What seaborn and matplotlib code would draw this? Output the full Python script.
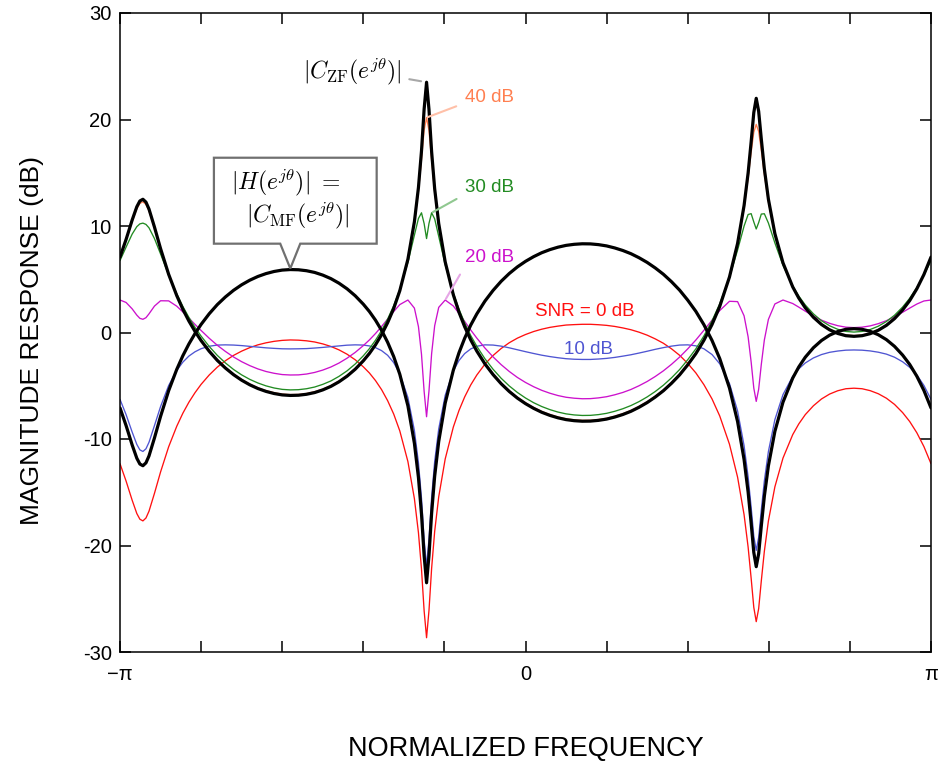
import numpy as np
import matplotlib
matplotlib.use("Agg")
import matplotlib.pyplot as plt
from matplotlib.patches import Polygon
import seaborn as sns

# ---------------- data ----------------
theta_over_pi = [
    -1.000, -0.985, -0.970, -0.9585, -0.951, -0.9435, -0.936, -0.9285, -0.915, -0.900,
    -0.880, -0.860, -0.845, -0.830, -0.815, -0.800, -0.780, -0.760, -0.740, -0.720,
    -0.700, -0.680, -0.660, -0.640, -0.620, -0.600, -0.580, -0.560, -0.540, -0.520,
    -0.500, -0.480, -0.460, -0.440, -0.420, -0.400, -0.385, -0.370, -0.355, -0.340,
    -0.325, -0.310, -0.290, -0.274, -0.264, -0.2565, -0.250, -0.244, -0.238, -0.2315,
    -0.224, -0.214, -0.198, -0.178, -0.164, -0.150, -0.135, -0.120, -0.100, -0.080,
    -0.060, -0.040, -0.020, 0.000, 0.020, 0.040, 0.060, 0.080, 0.100, 0.120,
    0.140, 0.160, 0.180, 0.200, 0.220, 0.240, 0.260, 0.280, 0.300, 0.320,
    0.340, 0.360, 0.380, 0.400, 0.420, 0.440, 0.460, 0.479, 0.503, 0.523,
    0.539, 0.549, 0.5565, 0.563, 0.569, 0.575, 0.5815, 0.589, 0.599, 0.615,
    0.635, 0.659, 0.674, 0.690, 0.710, 0.730, 0.750, 0.770, 0.790, 0.810,
    0.830, 0.850, 0.870, 0.890, 0.910, 0.930, 0.9475, 0.965, 0.9825, 1.000]

H_db = [
    -7.08, -8.74, -10.56, -11.81, -12.35, -12.51, -12.24, -11.59, -9.90, -7.88,
    -5.46, -3.46, -2.18, -1.07, -0.10, 0.76, 1.76, 2.62, 3.34, 3.96,
    4.48, 4.91, 5.26, 5.53, 5.73, 5.86, 5.91, 5.89, 5.80, 5.64,
    5.39, 5.06, 4.63, 4.10, 3.45, 2.66, 1.97, 1.16, 0.21, -0.92,
    -2.26, -3.92, -6.88, -10.40, -13.62, -17.04, -20.97, -23.50, -20.93, -16.97,
    -13.50, -10.23, -6.62, -3.54, -1.90, -0.54, 0.70, 1.75, 2.95, 3.95,
    4.81, 5.54, 6.16, 6.68, 7.12, 7.49, 7.78, 8.01, 8.18, 8.28,
    8.33, 8.32, 8.25, 8.13, 7.94, 7.70, 7.40, 7.02, 6.58, 6.06,
    5.47, 4.77, 3.98, 3.04, 1.99, 0.73, -0.75, -2.45, -5.21, -8.36,
    -11.92, -14.98, -17.92, -20.65, -21.99, -20.77, -18.17, -15.38, -12.52, -9.28,
    -6.54, -4.28, -3.23, -2.32, -1.43, -0.75, -0.25, 0.09, 0.30, 0.36,
    0.30, 0.11, -0.21, -0.67, -1.30, -2.12, -3.00, -4.10, -5.44, -7.08]

ZF_db = [
    7.08, 8.74, 10.56, 11.81, 12.35, 12.51, 12.24, 11.59, 9.90, 7.88,
    5.46, 3.46, 2.18, 1.07, 0.10, -0.76, -1.76, -2.62, -3.34, -3.96,
    -4.48, -4.91, -5.26, -5.53, -5.73, -5.86, -5.91, -5.89, -5.80, -5.64,
    -5.39, -5.06, -4.63, -4.10, -3.45, -2.66, -1.97, -1.16, -0.21, 0.92,
    2.26, 3.92, 6.88, 10.40, 13.62, 17.04, 20.97, 23.50, 20.93, 16.97,
    13.50, 10.23, 6.62, 3.54, 1.90, 0.54, -0.70, -1.75, -2.95, -3.95,
    -4.81, -5.54, -6.16, -6.68, -7.12, -7.49, -7.78, -8.01, -8.18, -8.28,
    -8.33, -8.32, -8.25, -8.13, -7.94, -7.70, -7.40, -7.02, -6.58, -6.06,
    -5.47, -4.77, -3.98, -3.04, -1.99, -0.73, 0.75, 2.45, 5.21, 8.36,
    11.92, 14.98, 17.92, 20.65, 21.99, 20.77, 18.17, 15.38, 12.52, 9.28,
    6.54, 4.28, 3.23, 2.32, 1.43, 0.75, 0.25, -0.09, -0.30, -0.36,
    -0.30, -0.11, 0.21, 0.67, 1.30, 2.12, 3.00, 4.10, 5.44, 7.08]

snr0_db = [
    -12.32, -13.95, -15.75, -17.00, -17.53, -17.69, -17.42, -16.78, -15.10, -13.10,
    -10.73, -8.80, -7.58, -6.54, -5.65, -4.87, -3.99, -3.25, -2.65, -2.15,
    -1.75, -1.42, -1.16, -0.97, -0.83, -0.74, -0.70, -0.72, -0.78, -0.89,
    -1.07, -1.31, -1.63, -2.04, -2.56, -3.22, -3.80, -4.51, -5.36, -6.40,
    -7.66, -9.24, -12.12, -15.60, -18.80, -22.21, -26.13, -28.66, -26.09, -22.14,
    -18.68, -15.43, -11.87, -8.88, -7.32, -6.05, -4.92, -3.99, -2.97, -2.16,
    -1.50, -0.96, -0.53, -0.19, 0.09, 0.31, 0.48, 0.60, 0.70, 0.74,
    0.77, 0.77, 0.73, 0.67, 0.57, 0.43, 0.26, 0.03, -0.25, -0.60,
    -1.01, -1.53, -2.14, -2.90, -3.79, -4.90, -6.24, -7.84, -10.49, -13.58,
    -17.10, -20.15, -23.09, -25.81, -27.15, -25.93, -23.33, -20.55, -17.70, -14.49,
    -11.79, -9.59, -8.58, -7.71, -6.88, -6.24, -5.78, -5.47, -5.28, -5.23,
    -5.28, -5.46, -5.75, -6.17, -6.75, -7.52, -8.36, -9.41, -10.71, -12.32]

snr10_db = [
    -6.28, -7.71, -9.35, -10.51, -11.02, -11.17, -10.92, -10.31, -8.74, -6.96,
    -4.98, -3.56, -2.78, -2.21, -1.81, -1.52, -1.29, -1.18, -1.16, -1.18,
    -1.23, -1.30, -1.37, -1.44, -1.49, -1.53, -1.54, -1.53, -1.51, -1.46,
    -1.40, -1.33, -1.26, -1.19, -1.16, -1.18, -1.26, -1.42, -1.70, -2.14,
    -2.83, -3.87, -6.11, -9.20, -12.23, -15.56, -19.44, -21.96, -19.40, -15.49,
    -12.12, -9.05, -5.90, -3.61, -2.63, -1.98, -1.54, -1.29, -1.16, -1.18,
    -1.28, -1.44, -1.62, -1.80, -1.97, -2.13, -2.26, -2.37, -2.46, -2.51,
    -2.53, -2.53, -2.49, -2.43, -2.34, -2.22, -2.09, -1.93, -1.76, -1.58,
    -1.42, -1.28, -1.18, -1.16, -1.25, -1.53, -2.07, -2.94, -4.79, -7.37,
    -10.62, -13.55, -16.42, -19.12, -20.46, -19.24, -16.67, -13.94, -11.18, -8.18,
    -5.83, -4.12, -3.41, -2.86, -2.39, -2.07, -1.86, -1.74, -1.66, -1.64,
    -1.66, -1.73, -1.85, -2.03, -2.32, -2.75, -3.27, -3.99, -4.97, -6.28]

snr20_db = [
    3.05, 2.82, 2.22, 1.63, 1.33, 1.24, 1.39, 1.75, 2.48, 2.98,
    2.97, 2.47, 1.93, 1.35, 0.76, 0.19, -0.54, -1.20, -1.78, -2.30,
    -2.74, -3.11, -3.42, -3.66, -3.83, -3.95, -3.99, -3.98, -3.90, -3.75,
    -3.53, -3.24, -2.87, -2.41, -1.87, -1.23, -0.70, -0.10, 0.56, 1.26,
    1.97, 2.62, 3.05, 2.29, 0.55, -2.04, -5.52, -7.91, -5.48, -1.98,
    0.63, 2.36, 3.05, 2.49, 1.79, 1.04, 0.23, -0.53, -1.46, -2.29,
    -3.02, -3.66, -4.22, -4.69, -5.09, -5.43, -5.70, -5.92, -6.08, -6.17,
    -6.22, -6.21, -6.14, -6.03, -5.85, -5.63, -5.35, -5.00, -4.60, -4.13,
    -3.60, -2.99, -2.31, -1.54, -0.71, 0.21, 1.16, 2.06, 2.93, 2.90,
    1.57, -0.41, -2.78, -5.22, -6.47, -5.33, -3.00, -0.71, 1.23, 2.68,
    3.05, 2.72, 2.38, 2.00, 1.55, 1.16, 0.86, 0.64, 0.50, 0.46,
    0.50, 0.62, 0.83, 1.11, 1.48, 1.90, 2.29, 2.67, 2.96, 3.05]

snr30_db = [
    6.75, 8.02, 9.24, 9.94, 10.20, 10.27, 10.15, 9.83, 8.82, 7.38,
    5.40, 3.63, 2.45, 1.41, 0.48, -0.34, -1.31, -2.15, -2.86, -3.47,
    -3.98, -4.40, -4.74, -5.01, -5.21, -5.34, -5.39, -5.37, -5.28, -5.12,
    -4.87, -4.55, -4.12, -3.60, -2.96, -2.19, -1.52, -0.73, 0.18, 1.26,
    2.52, 4.04, 6.59, 9.14, 10.71, 11.24, 10.23, 8.82, 10.25, 11.24,
    10.67, 9.03, 6.37, 3.70, 2.19, 0.90, -0.29, -1.30, -2.47, -3.45,
    -4.30, -5.02, -5.63, -6.15, -6.59, -6.95, -7.24, -7.47, -7.64, -7.74,
    -7.79, -7.78, -7.71, -7.59, -7.40, -7.16, -6.86, -6.49, -6.05, -5.54,
    -4.95, -4.26, -3.48, -2.56, -1.54, -0.32, 1.10, 2.70, 5.18, 7.74,
    9.99, 11.08, 11.16, 10.38, 9.72, 10.32, 11.12, 11.15, 10.28, 8.41,
    6.31, 4.36, 3.42, 2.58, 1.75, 1.10, 0.63, 0.30, 0.10, 0.04,
    0.10, 0.28, 0.59, 1.03, 1.62, 2.39, 3.21, 4.21, 5.38, 6.75]

snr40_db = [
    7.07, 8.68, 10.43, 11.62, 12.12, 12.27, 12.02, 11.41, 9.80, 7.85,
    5.48, 3.50, 2.23, 1.13, 0.16, -0.69, -1.69, -2.55, -3.27, -3.89,
    -4.41, -4.84, -5.19, -5.46, -5.65, -5.79, -5.83, -5.82, -5.73, -5.56,
    -5.32, -4.99, -4.56, -4.03, -3.38, -2.59, -1.90, -1.09, -0.15, 0.98,
    2.31, 3.96, 6.87, 10.28, 13.28, 16.23, 18.99, 20.18, 18.97, 16.17,
    13.17, 10.12, 6.61, 3.58, 1.95, 0.60, -0.64, -1.68, -2.88, -3.88,
    -4.74, -5.47, -6.08, -6.60, -7.04, -7.41, -7.70, -7.93, -8.10, -8.20,
    -8.25, -8.24, -8.17, -8.05, -7.86, -7.62, -7.32, -6.94, -6.50, -5.98,
    -5.40, -4.70, -3.91, -2.97, -1.92, -0.67, 0.81, 2.50, 5.23, 8.31,
    11.72, 14.49, 16.92, 18.80, 19.54, 18.87, 17.11, 14.84, 12.27, 9.21,
    6.54, 4.31, 3.27, 2.37, 1.48, 0.81, 0.31, -0.03, -0.24, -0.29,
    -0.24, -0.05, 0.27, 0.73, 1.36, 2.17, 3.04, 4.13, 5.45, 7.07]

x_tick_pos_over_pi = [-1.0, -0.8, -0.6, -0.4, -0.2, 0.0, 0.2, 0.4, 0.6, 0.8, 1.0]
x_tick_labels = ["\u2212\u03c0", "", "", "", "", "0", "", "", "", "", "\u03c0"]
y_tick_pos = [-30, -20, -10, 0, 10, 20, 30]
y_tick_labels = ["-30", "-20", "-10", "0", "10", "20", "30"]

# ---------------- style ----------------
sns.set_theme(style="white")
plt.rcParams["font.family"] = ["Liberation Sans", "DejaVu Sans"]
plt.rcParams["mathtext.fontset"] = "cm"

W, HH = 938, 766
fig = plt.figure(figsize=(W / 100, HH / 100), dpi=100)
fig.patch.set_facecolor("white")
ax = fig.add_axes([120 / W, (HH - 652) / HH, 811 / W, 639 / HH])
ax.set_facecolor("white")

theta = np.pi * np.asarray(theta_over_pi)

C_ORANGE = "#ff7f50"
C_GREEN = "#228b22"
C_MAG = "#cc11cc"
C_BLUE = "#4f55d2"
C_RED = "#ff1010"

for vals, col in [(snr0_db, C_RED), (snr10_db, C_BLUE), (snr20_db, C_MAG),
                  (snr30_db, C_GREEN), (snr40_db, C_ORANGE)]:
    sns.lineplot(x=theta, y=vals, color=col, linewidth=0.95, ax=ax,
                 estimator=None, sort=False, zorder=2)
for vals in (H_db, ZF_db):
    sns.lineplot(x=theta, y=vals, color="black", linewidth=2.3, ax=ax,
                 estimator=None, sort=False, zorder=3)

ax.set_xlim(-np.pi, np.pi)
ax.set_ylim(-30, 30)
ax.set_xticks(np.pi * np.asarray(x_tick_pos_over_pi))
ax.set_xticklabels(x_tick_labels)
ax.set_yticks(y_tick_pos)
ax.set_yticklabels(y_tick_labels)
ax.tick_params(axis="both", direction="in", length=8, width=1.1, colors="black",
               top=True, right=True, bottom=True, left=True, labelsize=14.5)
ax.tick_params(axis="x", pad=9)
ax.tick_params(axis="y", pad=6)
for sp in ax.spines.values():
    sp.set_visible(True)
    sp.set_color("black")
    sp.set_linewidth(1.1)
ax.grid(False)

ax.set_xlabel("NORMALIZED FREQUENCY", fontsize=19.5, color="black")
ax.set_ylabel("MAGNITUDE RESPONSE (dB)", fontsize=19, color="black")
ax.xaxis.set_label_coords(0.5006, -0.132)
ax.yaxis.set_label_coords(-0.094, 0.487)

# ---------------- annotations ----------------
i_pk = int(np.argmax(ZF_db))          # sharpest ZF peak
ax.annotate(r"$|C_{\rm ZF}(e^{j\theta})|$", xy=(theta[i_pk], ZF_db[i_pk]),
            xytext=(-1.339, 24.5), textcoords="data", ha="center", va="center",
            fontsize=17, color="black", zorder=6,
            arrowprops=dict(arrowstyle="-", color="#a8a8a8", lw=1.5,
                            relpos=(1.0, 0.3), shrinkA=3, shrinkB=4))
ax.annotate("40 dB", xy=(theta[i_pk], snr40_db[i_pk]), xytext=(-0.471, 22.1),
            textcoords="data", ha="left", va="center", fontsize=13.5, color=C_ORANGE,
            arrowprops=dict(arrowstyle="-", color="#ffc0a8", lw=1.5,
                            relpos=(0.0, 0.15), shrinkA=4, shrinkB=1))
ax.annotate("30 dB", xy=(theta[i_pk + 2], snr30_db[i_pk + 2]), xytext=(-0.471, 13.6),
            textcoords="data", ha="left", va="center", fontsize=13.5, color=C_GREEN,
            arrowprops=dict(arrowstyle="-", color="#90c890", lw=1.5,
                            relpos=(0.0, 0.1), shrinkA=4, shrinkB=1))
ax.annotate("20 dB", xy=(theta[i_pk + 5], snr20_db[i_pk + 5]), xytext=(-0.471, 7.0),
            textcoords="data", ha="left", va="center", fontsize=13.5, color=C_MAG,
            arrowprops=dict(arrowstyle="-", color="#e6a6e6", lw=1.5,
                            relpos=(0.0, 0.0), shrinkA=4, shrinkB=1))
ax.text(0.463, 2.0, "SNR = 0 dB", ha="center", va="center", fontsize=13.5, color=C_RED, zorder=6)
ax.text(0.487, -1.55, "10 dB", ha="center", va="center", fontsize=13.5, color=C_BLUE, zorder=6)

# callout box for |H| = |C_MF|, its pointer touching the left maximum of |H|
i_h = int(np.argmax(H_db[:40]))
tip = (theta[i_h], H_db[i_h] + 0.1)
bl, br, bb, bt = -2.414, -1.153, 8.34, 16.41
pl, pr = tip[0] - 0.078, tip[0] + 0.077
callout = Polygon([(bl, bb), (pl, bb), tip, (pr, bb), (br, bb), (br, bt), (bl, bt)],
                  closed=True, facecolor="white", edgecolor="#707070", linewidth=1.6,
                  zorder=5, joinstyle="miter")
ax.add_patch(callout)
ax.text(-1.857, 14.1, r"$|H(e^{j\theta})|\ =$", ha="center", va="center",
        fontsize=17, color="black", zorder=6)
ax.text(-1.768, 11.0, r"$|C_{\rm MF}(e^{j\theta})|$", ha="center", va="center",
        fontsize=17, color="black", zorder=6)

fig.savefig("out.png", dpi=100, facecolor="white")
